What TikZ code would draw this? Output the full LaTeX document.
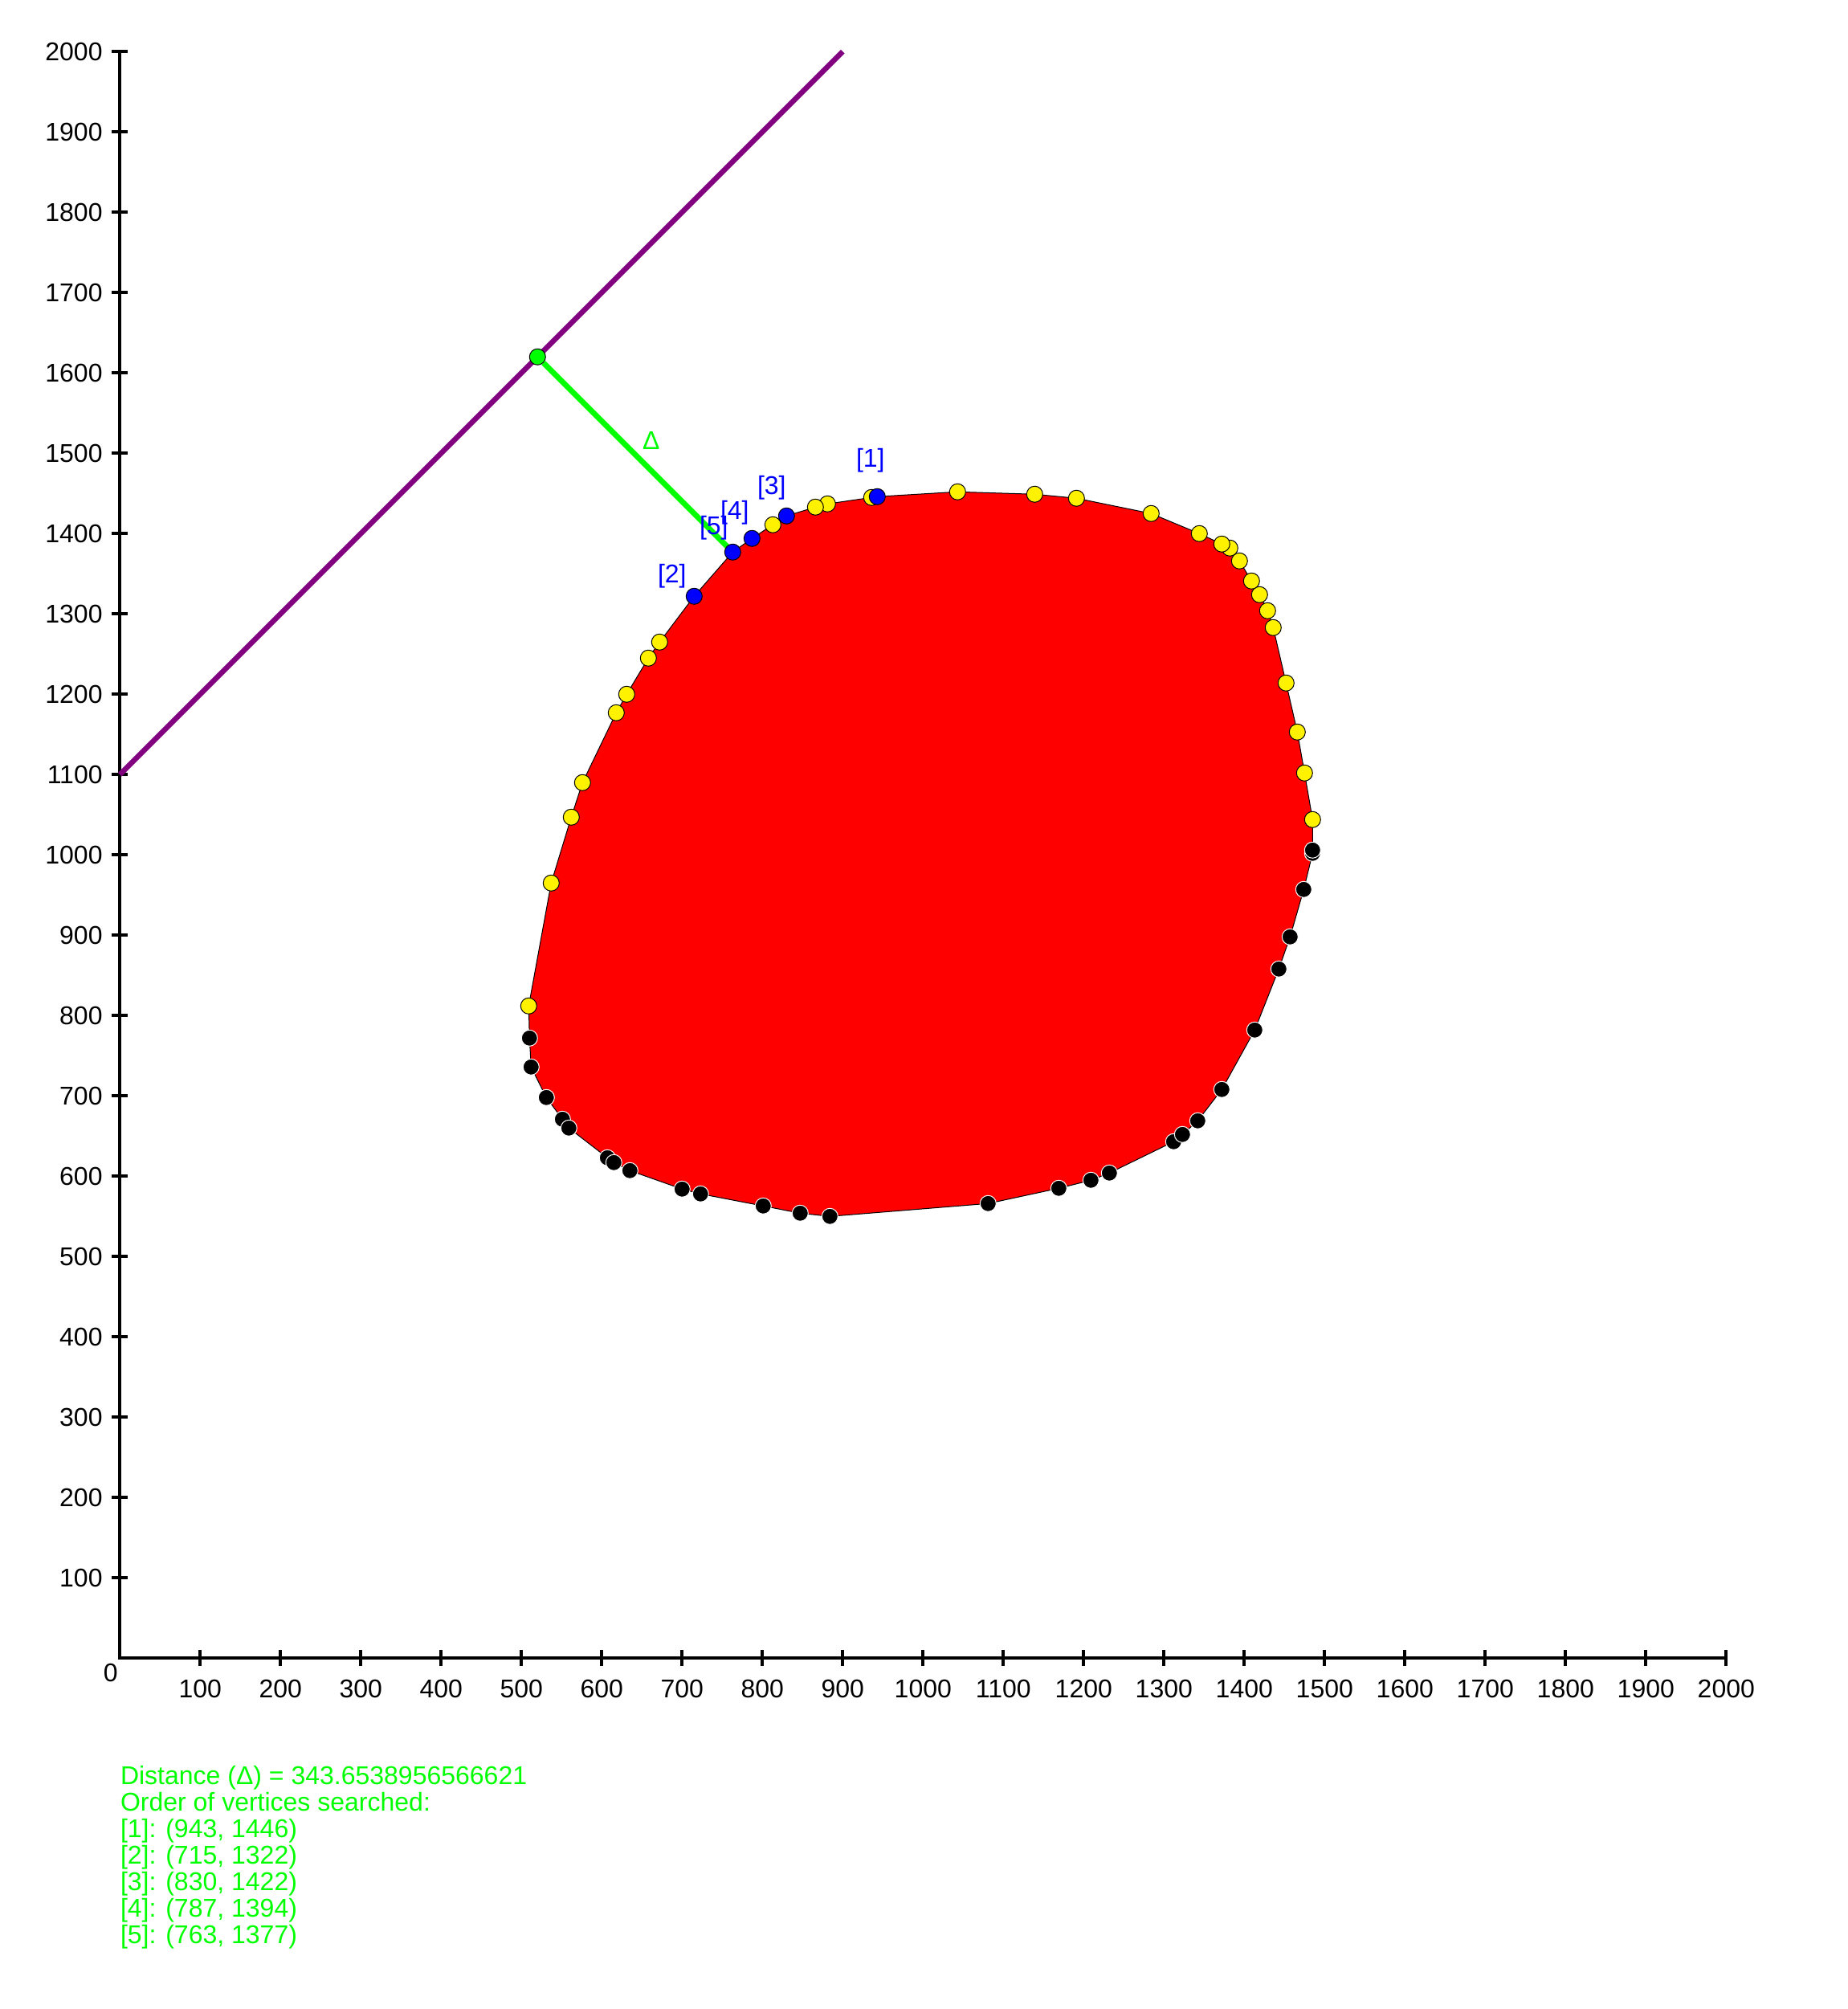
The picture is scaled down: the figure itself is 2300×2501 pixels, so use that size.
\documentclass[tikz,border=0pt]{standalone}
\usepackage{fontspec}
\setmainfont{Liberation Sans}
\definecolor{linepurple}{RGB}{128,0,128}

% hull vertices, counter-clockwise from the lowest point on the left
\newcommand\hullpts{510/772/lower, 512/736/lower, 531/698/lower,
  551/671/lower, 559/660/lower, 607/623/lower, 615/617/lower,
  635/607/lower, 700/584/lower, 723/578/lower, 801/563/lower,
  847/554/lower, 884/550/lower, 1081/566/lower, 1169/585/lower,
  1209/595/lower, 1232/604/lower, 1312/643/lower, 1323/652/lower,
  1342/669/lower, 1372/708/lower, 1413/782/lower, 1443/858/lower,
  1457/898/lower, 1474/957/lower, 1485/1002/lower, 1485/1006/lower,
  1485/1044/upper, 1475/1102/upper, 1466/1153/upper, 1452/1214/upper,
  1436/1283/upper, 1429/1304/upper, 1419/1324/upper, 1409/1341/upper,
  1394/1366/upper, 1382/1382/upper, 1372/1387/upper, 1344/1400/upper,
  1284/1425/upper, 1191/1444/upper, 1139/1449/upper, 1043/1452/upper,
  943/1446/searched, 936/1445/upper, 881/1437/upper, 866/1433/upper,
  830/1422/searched, 813/1411/upper, 787/1394/searched,
  763/1377/searched, 715/1322/searched, 672/1265/upper,
  658/1245/upper, 631/1200/upper, 618/1177/upper, 576/1090/upper,
  562/1047/upper, 537/965/upper, 509/812/upper}

\begin{document}
\begin{tikzpicture}[
  x=0.01cm, y=0.01cm, font=\fontsize{9.1}{10}\selectfont,
  axis/.style={line width=0.04cm},
  tick/.style={line width=0.04cm},
  ticklab/.style={inner sep=0pt},
  support/.style={linepurple, line width=0.065cm},
  gap/.style={green, line width=0.07cm},
  hull/.style={fill=red, draw=black, line width=0.01cm},
  dot/.style={circle, minimum size=0.2cm, inner sep=0pt, line width=0.01cm},
  upper/.style={dot, draw=black, fill=yellow},
  lower/.style={dot, draw=white, fill=black},
  searched/.style={coordinate},
  found/.style={dot, draw=black, fill=blue},
  foot/.style={dot, draw=black, fill=green},
  findlab/.style={inner sep=0pt, text=blue},
  report/.style={inner sep=0pt, text=green}
]
  \useasboundingbox (-149.3,-436.7) rectangle (2150.7,2064.3);

  %% ============================================================ the axes
  \draw[axis] (0,2000) -- (0,0) -- (2000,0);
  \foreach \t in {100,200,...,2000} {
    \draw[tick] (\t,-10) -- (\t,10);
    \node[ticklab, anchor=north] (xt\t) at (\t,-26) {\t};
    \draw[tick] (-10,\t) -- (10,\t);
    \node[ticklab, anchor=east] (yt\t) at (-21,\t) {\t};
  }
  \node[ticklab, anchor=north east] (orig) at (-2,-6) {0};

  %% ------------------------------------------------------ the query line
  \coordinate (s0) at (0,1100);
  \coordinate (s1) at (900,2000);
  \draw[support] (s0) -- (s1);

  %% ------------------------------------------------------------ the hull
  \draw[hull] (509,812) \foreach \x/\y/\s in \hullpts { -- (\x,\y) } -- cycle;
  \foreach \x/\y/\s in \hullpts
    \node[\s] (h\x-\y) at (\x,\y) {};

  % The gap: from the foot on the line to the nearest vertex.
  \node[foot] (foot) at (520,1620) {};
  \draw[gap] (foot) -- (h763-1377);
  \node[report, anchor=base west] (dlab) at (650,1505) {Δ};

  %% ------------------------------------ searched vertices and the report
  \node[report, anchor=base west] (dist) at (0,-156.7)
    {Distance (Δ) = 343.6538956566621};
  \node[report, anchor=base west] (order) at (0,-189.7)
    {Order of vertices searched:};
  \foreach \k/\vx/\vy/\dx/\dy in {1/943/1446/-27/37, 2/715/1322/-46/17,
      3/830/1422/-37/27, 4/787/1394/-40/24, 5/763/1377/-42/22} {
    \node[found] (v\k) at (h\vx-\vy) {};
    \node[findlab, anchor=base west] (l\k) at ([shift={(\dx,\dy)}]v\k.center) {[\k]};
    \node[report, anchor=base west] (r\k) at (0,{-222.7-33*(\k-1)})
      {[\k]: (\vx, \vy)};
  }

\end{tikzpicture}
\end{document}
